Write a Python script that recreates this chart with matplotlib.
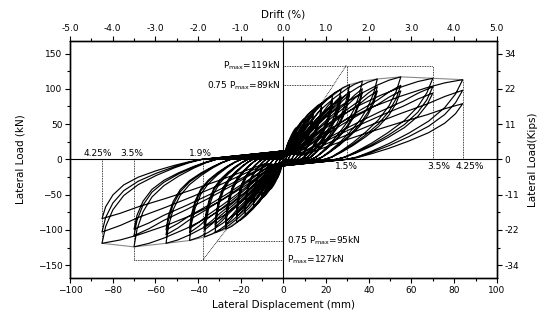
import numpy as np
import matplotlib
matplotlib.use("Agg")
import matplotlib.pyplot as plt
from matplotlib.ticker import MultipleLocator, FormatStrFormatter

# ---- cycle data: amplitude (mm) and peak load (kN)
amp_pos = [3, 3, 6, 6, 10, 10, 14, 14, 18, 18, 23, 23, 23, 27, 27, 27, 31, 31, 31,
           37, 37, 37, 44, 44, 44, 55, 55, 55, 70, 70, 70, 84, 84, 84]
peak_pos = [28, 25, 45, 41, 58, 53, 70, 64, 80, 73, 90, 83, 79, 99, 90, 86, 106, 96, 92,
            111, 100, 95, 114, 103, 97, 117, 105, 97, 115, 103, 94, 113, 98, 79]
amp_neg = [3, 3, 6, 6, 10, 10, 14, 14, 18, 18, 22, 22, 22, 27, 27, 27, 32, 32, 32,
           37, 37, 37, 44, 44, 44, 55, 55, 55, 70, 70, 70, 85, 85, 85]
peak_neg = [27, 24, 42, 39, 55, 51, 66, 61, 78, 71, 89, 82, 78, 99, 92, 88, 104, 96, 92,
            110, 100, 95, 115, 104, 98, 119, 107, 100, 124, 108, 99, 119, 103, 84]
first_cycle = [1, 0, 1, 0, 1, 0, 1, 0, 1, 0, 1, 0, 0, 1, 0, 0, 1, 0, 0,
               1, 0, 0, 1, 0, 0, 1, 0, 0, 1, 0, 0, 1, 0, 0]
pinch_pos = [3, 3, 4, 4, 5, 5, 6, 6, 6, 6, 7, 7, 7, 7, 7, 7, 8, 8, 8,
             8, 8, 8, 8, 8, 8, 9, 9, 9, 9, 9, 9, 9, 9, 9]
pinch_neg = [3, 3, 5, 5, 6, 6, 7, 7, 8, 8, 9, 9, 9, 10, 10, 10, 10, 10, 10,
             11, 11, 11, 11, 11, 11, 12, 12, 12, 12, 12, 12, 12, 12, 12]

# ---- branch shapes read from the loops (fractions of amplitude / peak)
load_x = [0.1, 0.2, 0.35, 0.5, 0.65, 0.8, 0.9, 1.0]
load_y_first = [0.14, 0.30, 0.50, 0.66, 0.79, 0.90, 0.96, 1.0]
load_y_next = [0.07, 0.18, 0.35, 0.51, 0.66, 0.80, 0.91, 1.0]
unl_x_pos = [1.0, 0.96, 0.9, 0.81, 0.7, 0.59, 0.49, 0.41, 0.35]
unl_y_pos = [1.0, 0.82, 0.65, 0.48, 0.33, 0.2, 0.1, 0.03, 0.0]
unl_x_neg = [1.0, 0.98, 0.94, 0.88, 0.8, 0.7, 0.6, 0.52, 0.45]
unl_y_neg = [1.0, 0.8, 0.6, 0.43, 0.3, 0.19, 0.1, 0.04, 0.0]

# envelope (first-cycle peaks)
env_x = [-85, -70, -55, -44, -37, -32, -27, -22, -18, -14, -10, -6, -3, 0,
         3, 6, 10, 14, 18, 23, 27, 31, 37, 44, 55, 70, 84]
env_y = [-119, -124, -119, -115, -110, -104, -99, -89, -78, -66, -55, -42, -27, 0,
         28, 45, 58, 70, 80, 90, 99, 106, 111, 114, 117, 115, 113]

fig = plt.figure(figsize=(5.49, 3.22), dpi=100)
ax = fig.add_axes([0.1275, 0.137, 0.7775, 0.736])

xs, ys = [0.0], [0.0]
lx = np.array(load_x)
for i in range(len(amp_pos)):
    ly = np.array(load_y_first if first_cycle[i] else load_y_next)
    Dp, Pp, Dn, Pn = amp_pos[i], peak_pos[i], amp_neg[i], peak_neg[i]
    xs += list(lx * Dp); ys += list(ly * Pp)
    xs += list(np.array(unl_x_pos) * Dp); ys += list(np.array(unl_y_pos) * Pp)
    xs.append(0.0); ys.append(-pinch_pos[i])
    xs += list(-lx * Dn); ys += list(-ly * Pn)
    xs += list(-np.array(unl_x_neg) * Dn); ys += list(-np.array(unl_y_neg) * Pn)
    xs.append(0.0); ys.append(pinch_neg[i])

ax.plot(env_x, env_y, color='#888888', lw=0.8, zorder=2)
ax.plot(xs, ys, color='black', lw=0.85, zorder=3)

ax.axhline(0, color='black', lw=0.8, zorder=1)
ax.axvline(0, color='black', lw=0.8, zorder=1)

dot = dict(color='black', lw=0.6, ls=(0, (1, 1)), zorder=1)
# positive annotations
ax.plot([0, 70], [133, 133], **dot)
ax.plot([0, 23.3], [105, 105], **dot)
ax.plot([18.5, 29.4], [82.6, 133], **dot)
ax.plot([29.6, 29.6], [0, 133], **dot)
ax.plot([70, 70], [0, 133], **dot)
ax.plot([84, 84], [0, 113], **dot)
# negative annotations
ax.plot([-70, 0], [-142, -142], **dot)
ax.plot([-31, 0], [-115, -115], **dot)
ax.plot([-37.6, -26.6], [-142, -99], **dot)
ax.plot([-37.6, -37.6], [0, -142], **dot)
ax.plot([-70, -70], [0, -142], **dot)
ax.plot([-85, -85], [0, -120], **dot)

fs = 6.5
ax.text(-1.5, 133, r'P$_{\rm max}$=119kN', ha='right', va='center', fontsize=fs)
ax.text(-1.5, 105, r'0.75 P$_{\rm max}$=89kN', ha='right', va='center', fontsize=fs)
ax.text(1.5, -115, r'0.75 P$_{\rm max}$=95kN', ha='left', va='center', fontsize=fs)
ax.text(1.5, -142, r'P$_{\rm max}$=127kN', ha='left', va='center', fontsize=fs)
for xt, t in [(-87, '4.25%'), (-71, '3.5%'), (-39, '1.9%')]:
    ax.text(xt, 9, t, ha='center', va='center', fontsize=fs)
for xt, t in [(29.5, '1.5%'), (73, '3.5%'), (87.5, '4.25%')]:
    ax.text(xt, -10, t, ha='center', va='center', fontsize=fs)

ax.set_xlim(-100, 100)
ax.set_ylim(-168, 168)
ax.xaxis.set_major_locator(MultipleLocator(20))
ax.xaxis.set_minor_locator(MultipleLocator(10))
ax.yaxis.set_major_locator(MultipleLocator(50))
ax.yaxis.set_minor_locator(MultipleLocator(25))
ax.set_xlabel('Lateral Displacement (mm)', fontsize=7.5, labelpad=4)
ax.set_ylabel('Lateral Load (kN)', fontsize=7.5, labelpad=9)

axt = ax.twiny()
axt.set_xlim(-5, 5)
axt.xaxis.set_major_locator(MultipleLocator(1))
axt.xaxis.set_minor_locator(MultipleLocator(0.5))
axt.xaxis.set_major_formatter(FormatStrFormatter('%.1f'))
axt.set_xlabel('Drift (%)', fontsize=7.5, labelpad=5)

axr = ax.twinx()
axr.set_ylim(-168, 168)
axr.set_yticks([-150, -100, -50, 0, 50, 100, 150])
axr.set_yticklabels(['-34', '-22', '-11', '0', '11', '22', '34'])
axr.yaxis.set_minor_locator(MultipleLocator(25))
axr.set_ylabel('Lateral Load(Kips)', fontsize=7.5, labelpad=6)

for a in (ax, axt, axr):
    a.tick_params(which='major', direction='out', length=3.5, width=0.8, labelsize=6.5, pad=2)
    a.tick_params(which='minor', direction='out', length=2, width=0.8)
    for s in a.spines.values():
        s.set_linewidth(0.9)

fig.savefig('out.png', dpi=100)
